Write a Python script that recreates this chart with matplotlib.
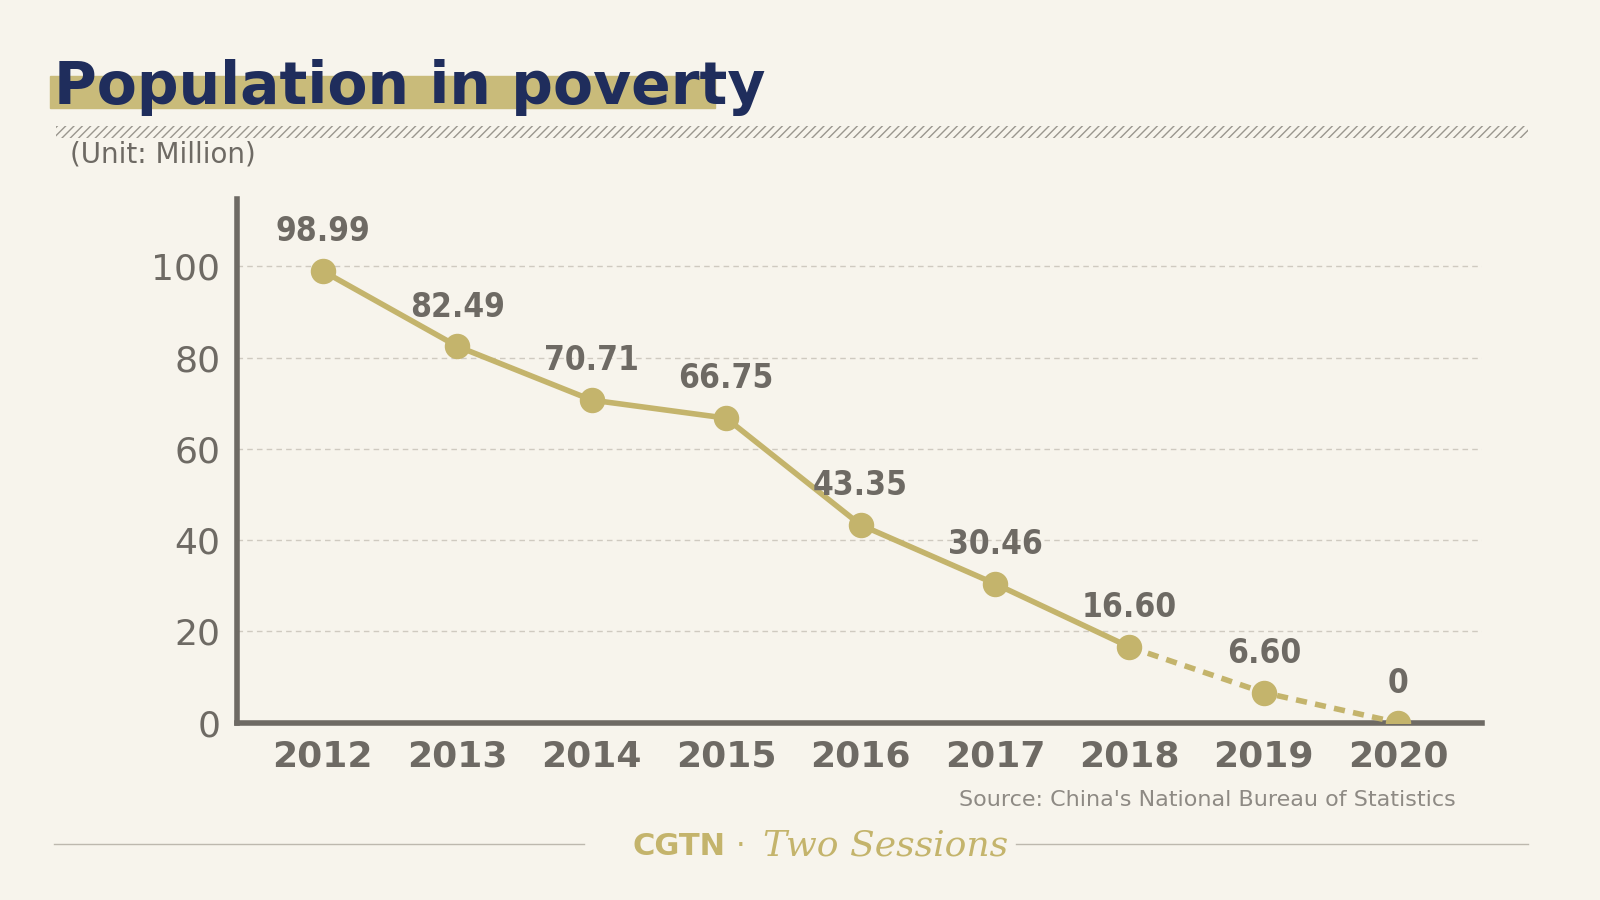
import matplotlib.pyplot as plt
from matplotlib.patches import Rectangle

years = [2012, 2013, 2014, 2015, 2016, 2017, 2018, 2019, 2020]
values = [98.99, 82.49, 70.71, 66.75, 43.35, 30.46, 16.60, 6.60, 0]
labels = ["98.99", "82.49", "70.71", "66.75", "43.35", "30.46", "16.60", "6.60", "0"]
yticks = [0, 20, 40, 60, 80, 100]

bg = "#f7f4ec"
gold = "#c4b46c"
grey = "#6e6a64"
navy = "#1f2d5c"

plt.rcParams["font.family"] = ["DejaVu Sans"]
fig = plt.figure(figsize=(16, 9), dpi=100, facecolor=bg)
ax = fig.add_axes([0.148, 0.197, 0.778, 0.582], facecolor=bg)

solid = 7
ax.plot(years[:solid], values[:solid], color=gold, lw=4, zorder=3)
ax.plot(years[solid - 1:], values[solid - 1:], color=gold, lw=4, ls=(0, (2, 1.5)), zorder=3)
ax.scatter(years, values, s=300, color=gold, zorder=4)
for x, v, t in zip(years, values, labels):
    ax.text(x, v + 5, t, ha="center", va="bottom", fontsize=24, color=grey,
            fontweight="bold", fontstretch="condensed", family="Liberation Sans Narrow")

ax.set_xlim(2011.36, 2020.62)
ax.set_ylim(0, 114.8)
ax.set_yticks(yticks)
ax.set_xticks(years)
ax.tick_params(length=0, labelsize=26, colors=grey, pad=12)
for lab in ax.get_xticklabels():
    lab.set_fontweight("bold")
ax.yaxis.grid(True, ls=(0, (4, 3)), color="#cfcac0", lw=1)
for s in ["top", "right"]:
    ax.spines[s].set_visible(False)
for s in ["left", "bottom"]:
    ax.spines[s].set_color(grey)
    ax.spines[s].set_linewidth(4)

# title
fig.patches.append(Rectangle((0.031, 0.88), 0.416, 0.035, transform=fig.transFigure,
                             color="#c9bb7a", zorder=0))
fig.text(0.034, 0.885, "Population in poverty", fontsize=42, fontweight="bold", color=navy)
fig.patches.append(Rectangle((0.035, 0.847), 0.92, 0.013, transform=fig.transFigure,
                             facecolor="none", edgecolor="#9a968e", hatch="////", lw=0))
fig.text(0.044, 0.82, "(Unit: Million)", fontsize=20, color=grey)
fig.text(0.91, 0.105, "Source: China's National Bureau of Statistics", fontsize=16,
         color="#8e8a84", ha="right")

# footer
fig.add_artist(plt.Line2D([0.034, 0.365], [0.062, 0.062], color="#bdb8ae", lw=1))
fig.add_artist(plt.Line2D([0.635, 0.955], [0.062, 0.062], color="#bdb8ae", lw=1))
fig.text(0.395, 0.05, "CGTN", fontsize=22, fontweight="bold", color=gold)
fig.text(0.46, 0.05, "·", fontsize=22, color=gold)
fig.text(0.477, 0.05, "Two Sessions", fontsize=26, style="italic", color=gold, family="DejaVu Serif")

fig.savefig("out.png", dpi=100, facecolor=bg)
